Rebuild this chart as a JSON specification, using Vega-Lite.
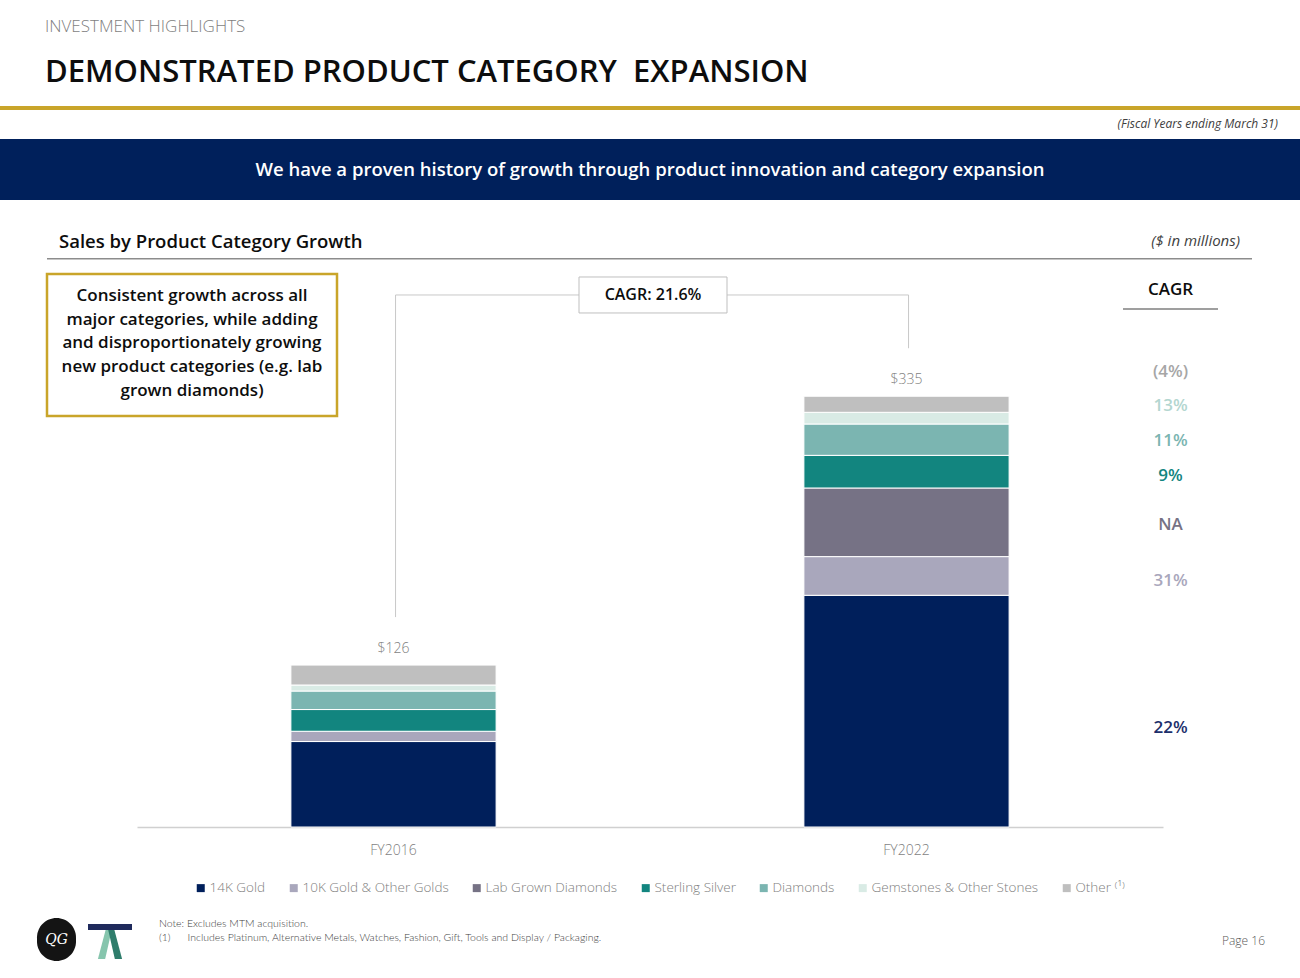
{
  "$schema": "https://vega.github.io/schema/vega-lite/v6.json",
  "background": "white",
  "padding": 0,
  "bounds": "flush",
  "spacing": 0,
  "config": {"view": {"stroke": null}, "font": "Open Sans"},
  "vconcat": [
    {"width": 1300, "height": 106, "data": {"values": [{}]}, "mark": {"type": "point", "opacity": 0}, "encoding": {}},
    {
      "width": 1300, "height": 4,
      "view": {"fill": "#c9a52a"},
      "data": {"values": [{}]}, "mark": {"type": "point", "opacity": 0}, "encoding": {},
      "title": {
        "text": "INVESTMENT HIGHLIGHTS",
        "subtitle": "DEMONSTRATED PRODUCT CATEGORY \u00a0EXPANSION",
        "anchor": "start", "frame": "group", "dx": 45, "offset": 16,
        "font": "Open Sans", "fontSize": 17, "fontWeight": 300, "color": "#7f7f7f",
        "subtitleFont": "Open Sans", "subtitleFontSize": 31, "subtitleFontWeight": 600,
        "subtitleColor": "#0d0d0d", "subtitlePadding": 22
      }
    },
    {"width": 1300, "height": 29, "data": {"values": [{}]}, "mark": {"type": "point", "opacity": 0}, "encoding": {}},
    {
      "width": 1300, "height": 61,
      "view": {"fill": "#00205b"},
      "title": {
        "text": "(Fiscal Years ending March 31)",
        "anchor": "end", "frame": "group", "dx": -22, "offset": 8,
        "fontSize": 12, "fontStyle": "italic", "fontWeight": "normal", "color": "#404040"
      },
      "data": {"values": [{"msg": "We have a proven history of growth through product innovation and category expansion"}]},
      "mark": {"type": "text", "color": "white", "fontSize": 18.5, "fontWeight": 600},
      "encoding": {"text": {"field": "msg", "type": "nominal"}}
    },
    {"width": 1300, "height": 58, "data": {"values": [{}]}, "mark": {"type": "point", "opacity": 0}, "encoding": {}},
    {
      "bounds": "flush", "spacing": 0,
      "hconcat": [
        {"width": 47, "height": 1, "data": {"values": [{}]}, "mark": {"type": "point", "opacity": 0}, "encoding": {}},
        {
          "width": 600, "height": 1.5,
          "view": {"fill": "#8c8c8c"},
          "data": {"values": [{}]}, "mark": {"type": "point", "opacity": 0}, "encoding": {},
          "title": {
            "text": "Sales by Product Category Growth",
            "anchor": "start", "frame": "group", "dx": 12, "offset": 5,
            "fontSize": 18.5, "fontWeight": 600, "color": "#0d0d0d"
          }
        },
        {
          "width": 605, "height": 1.5,
          "view": {"fill": "#8c8c8c"},
          "data": {"values": [{}]}, "mark": {"type": "point", "opacity": 0}, "encoding": {},
          "title": {
            "text": "($ in millions)",
            "anchor": "end", "frame": "group", "dx": -12, "offset": 7,
            "fontSize": 15, "fontStyle": "italic", "fontWeight": "normal", "color": "#404040"
          }
        }
      ]
    },
    {"width": 1300, "height": 1, "data": {"values": [{}]}, "mark": {"type": "point", "opacity": 0}, "encoding": {}},
    {
      "bounds": "flush", "spacing": 0,
      "hconcat": [
        {"width": 47, "height": 1, "data": {"values": [{}]}, "mark": {"type": "point", "opacity": 0}, "encoding": {}},
        {
          "bounds": "flush", "spacing": 0,
          "vconcat": [
            {"width": 290, "height": 15, "data": {"values": [{}]}, "mark": {"type": "point", "opacity": 0}, "encoding": {}},
            {
              "width": 290, "height": 142,
              "view": {"stroke": "#c9a52a", "strokeWidth": 2.5, "fill": "white"},
              "data": {"values": [{"lines": ["Consistent growth across all", "major categories, while adding", "and disproportionately growing", "new product categories (e.g. lab", "grown diamonds)"]}]},
              "mark": {"type": "text", "fontSize": 17, "fontWeight": 600, "color": "#0d0d0d", "lineHeight": 23.7, "dy": -49},
              "encoding": {"text": {"field": "lines", "type": "nominal"}}
            }
          ]
        },
        {"width": 90, "height": 1, "data": {"values": [{}]}, "mark": {"type": "point", "opacity": 0}, "encoding": {}},
        {
          "bounds": "flush", "spacing": 0,
          "hconcat": [
            {"width": 986, "height": 1, "data": {"values": [{}]}, "mark": {"type": "point", "opacity": 0}, "encoding": {}},
            {
              "width": 95, "height": 568,
              "data": {"values": [
                {"category": "Other", "cagr": "(4%)", "at": 354},
                {"category": "Gemstones & Other Stones", "cagr": "13%", "at": 327.6},
                {"category": "Diamonds", "cagr": "11%", "at": 300.4},
                {"category": "Sterling Silver", "cagr": "9%", "at": 273.2},
                {"category": "Lab Grown Diamonds", "cagr": "NA", "at": 235},
                {"category": "10K Gold & Other Golds", "cagr": "31%", "at": 191.4},
                {"category": "14K Gold", "cagr": "22%", "at": 77}
              ]},
              "layer": [
                {
                  "mark": {"type": "text", "fontSize": 17, "fontWeight": 600},
                  "encoding": {
                    "y": {"field": "at", "type": "quantitative", "scale": {"domain": [0, 442], "nice": false}, "axis": null},
                    "text": {"field": "cagr", "type": "nominal"},
                    "color": {
                      "condition": [
                        {"test": "datum.category == 'Other'", "value": "#a6a6a6"},
                        {"test": "datum.category == 'Gemstones & Other Stones'", "value": "#b3d6d0"},
                        {"test": "datum.category == 'Diamonds'", "value": "#7bb5b1"},
                        {"test": "datum.category == 'Sterling Silver'", "value": "#12857f"},
                        {"test": "datum.category == 'Lab Grown Diamonds'", "value": "#767285"},
                        {"test": "datum.category == '10K Gold & Other Golds'", "value": "#a9a7bc"}
                      ],
                      "value": "#1c2f6b"
                    }
                  }
                },
                {
                  "data": {"values": [{"h": "CAGR"}]},
                  "layer": [
                    {
                      "mark": {"type": "rule", "color": "#7f7f7f", "strokeWidth": 1.5},
                      "encoding": {"y": {"datum": 403, "type": "quantitative"}}
                    },
                    {
                      "mark": {"type": "text", "fontSize": 17, "fontWeight": 600, "color": "#0d0d0d"},
                      "encoding": {"y": {"datum": 418, "type": "quantitative"}, "text": {"field": "h", "type": "nominal"}}
                    }
                  ]
                }
              ]
            }
          ]
        },
        {
          "width": 1026, "height": 568,
          "data": {"values": [
            {"year": "FY2016", "category": "14K Gold", "value": 66.5, "rank": 1},
            {"year": "FY2016", "category": "10K Gold & Other Golds", "value": 8.0, "rank": 2},
            {"year": "FY2016", "category": "Sterling Silver", "value": 16.9, "rank": 4},
            {"year": "FY2016", "category": "Diamonds", "value": 14.4, "rank": 5},
            {"year": "FY2016", "category": "Gemstones & Other Stones", "value": 4.7, "rank": 6},
            {"year": "FY2016", "category": "Other", "value": 15.5, "rank": 7},
            {"year": "FY2022", "category": "14K Gold", "value": 180.3, "rank": 1},
            {"year": "FY2022", "category": "10K Gold & Other Golds", "value": 30.1, "rank": 2},
            {"year": "FY2022", "category": "Lab Grown Diamonds", "value": 53.4, "rank": 3},
            {"year": "FY2022", "category": "Sterling Silver", "value": 25.4, "rank": 4},
            {"year": "FY2022", "category": "Diamonds", "value": 24.4, "rank": 5},
            {"year": "FY2022", "category": "Gemstones & Other Stones", "value": 9.1, "rank": 6},
            {"year": "FY2022", "category": "Other", "value": 12.5, "rank": 7}
          ]},
          "layer": [
            {
              "mark": {"type": "bar", "stroke": "white", "strokeWidth": 1},
              "encoding": {
                "x": {
                  "field": "year", "type": "nominal",
                  "scale": {"paddingInner": 0.6, "paddingOuter": 0.3},
                  "axis": {"title": null, "labelAngle": 0, "labelFontSize": 14, "labelColor": "#7f7f7f", "labelFontWeight": 300, "ticks": false, "tickSize": 0, "labelPadding": 16, "domainColor": "#d0d0d0", "domainWidth": 1.5}
                },
                "y": {"field": "value", "type": "quantitative", "stack": "zero", "scale": {"domain": [0, 442], "nice": false}, "axis": null},
                "color": {
                  "field": "category", "type": "nominal",
                  "scale": {
                    "domain": ["14K Gold", "10K Gold & Other Golds", "Lab Grown Diamonds", "Sterling Silver", "Diamonds", "Gemstones & Other Stones", "Other"],
                    "range": ["#001f5b", "#a9a7bc", "#767285", "#12857f", "#7bb5b1", "#d9ebe5", "#bfbfbf"]
                  },
                  "legend": {
                    "orient": "none", "legendX": 194, "legendY": 881, "direction": "horizontal", "title": null, "padding": 0,
                    "symbolType": "square", "symbolSize": 64, "symbolStrokeWidth": 0,
                    "labelFontSize": 13.5, "labelColor": "#808080", "labelFontWeight": 300, "labelLimit": 400,
                    "columnPadding": 21, "labelOffset": 2,
                    "labelExpr": "datum.label == 'Other' ? 'Other ⁽¹⁾' : datum.label"
                  }
                },
                "order": {"field": "rank", "type": "quantitative"}
              }
            },
            {
              "transform": [{"aggregate": [{"op": "sum", "field": "value", "as": "total"}], "groupby": ["year"]}],
              "layer": [
                {
                  "mark": {"type": "text", "baseline": "alphabetic", "dy": -12, "fontSize": 14, "color": "#7f7f7f", "fontWeight": 300},
                  "encoding": {
                    "x": {"field": "year", "type": "nominal"},
                    "y": {"field": "total", "type": "quantitative", "axis": null},
                    "text": {"field": "total", "type": "quantitative", "format": "$.0f"}
                  }
                },
                {
                  "mark": {"type": "rule", "color": "#c8c8c8", "strokeWidth": 1, "yOffset": -48},
                  "encoding": {
                    "x": {"field": "year", "type": "nominal", "bandPosition": 0.51},
                    "y": {"field": "total", "type": "quantitative", "axis": null},
                    "y2": {"datum": 414}
                  }
                },
                {
                  "mark": {"type": "line", "color": "#c8c8c8", "strokeWidth": 1},
                  "encoding": {
                    "x": {"field": "year", "type": "nominal", "bandPosition": 0.51},
                    "y": {"datum": 414, "type": "quantitative"}
                  }
                }
              ]
            },
            {
              "data": {"values": [{"label": "CAGR: 21.6%"}]},
              "layer": [
                {
                  "mark": {"type": "point", "shape": "M-1,-0.2432L1,-0.2432L1,0.2432L-1,0.2432Z", "size": 21904, "filled": true, "fill": "white", "stroke": "#bfbfbf", "strokeWidth": 1, "opacity": 1, "xOffset": 3},
                  "encoding": {"y": {"datum": 414, "type": "quantitative"}}
                },
                {
                  "mark": {"type": "text", "fontSize": 16, "fontWeight": 600, "color": "#0d0d0d", "xOffset": 3},
                  "encoding": {"y": {"datum": 414, "type": "quantitative"}, "text": {"field": "label", "type": "nominal"}}
                }
              ]
            }
          ]
        }
      ]
    },
    {"width": 1300, "height": 659, "data": {"values": [{}]}, "mark": {"type": "point", "opacity": 0}, "encoding": {}},
    {
      "bounds": "flush", "spacing": 0,
      "hconcat": [
        {"width": 37, "height": 1, "data": {"values": [{}]}, "mark": {"type": "point", "opacity": 0}, "encoding": {}},
        {
          "width": 39, "height": 43,
          "view": {"fill": "#141414", "cornerRadius": 20},
          "data": {"values": [{"t": "QG"}]},
          "mark": {"type": "text", "color": "white", "font": "DejaVu Serif", "fontStyle": "italic", "fontSize": 14},
          "encoding": {"text": {"field": "t", "type": "nominal"}}
        },
        {"width": 12, "height": 1, "data": {"values": [{}]}, "mark": {"type": "point", "opacity": 0}, "encoding": {}},
        {
          "bounds": "flush", "spacing": 0,
          "vconcat": [
            {"width": 44, "height": 6, "data": {"values": [{}]}, "mark": {"type": "point", "opacity": 0}, "encoding": {}},
            {"width": 44, "height": 6, "view": {"fill": "#1f2a5c"}, "data": {"values": [{}]}, "mark": {"type": "point", "opacity": 0}, "encoding": {}},
            {
              "width": 44, "height": 29,
              "data": {"values": [{}]},
              "layer": [
                {"mark": {"type": "point", "shape": "M-0.2,-0.66L0.08,-0.66L-0.22,0.66L-0.55,0.66Z", "size": 1936, "filled": true, "color": "#86c5ad", "opacity": 1}, "encoding": {}},
                {"mark": {"type": "point", "shape": "M-0.08,-0.66L0.2,-0.66L0.55,0.66L0.22,0.66Z", "size": 1936, "filled": true, "color": "#2f7d6c", "opacity": 1}, "encoding": {}}
              ]
            }
          ]
        }
      ]
    },
    {"width": 1300, "height": 28, "data": {"values": [{}]}, "mark": {"type": "point", "opacity": 0}, "encoding": {}},
    {
      "width": 700, "height": 1,
      "data": {"values": [{}]}, "mark": {"type": "point", "opacity": 0}, "encoding": {},
      "title": {
        "text": "Note: Excludes MTM acquisition.",
        "subtitle": "(1)\u00a0\u00a0\u00a0\u00a0\u00a0\u00a0Includes Platinum, Alternative Metals, Watches, Fashion, Gift, Tools and Display / Packaging.",
        "anchor": "start", "frame": "group", "dx": 159, "offset": 0,
        "font": "Lato", "fontSize": 10.5, "fontWeight": 300, "color": "#404040",
        "subtitleFont": "Lato", "subtitleFontSize": 10.5, "subtitleFontWeight": 300, "subtitleColor": "#404040", "subtitlePadding": 4
      }
    },
    {
      "width": 1265, "height": 1,
      "data": {"values": [{}]}, "mark": {"type": "point", "opacity": 0}, "encoding": {},
      "title": {
        "text": "Page 16",
        "anchor": "end", "frame": "group", "offset": -3,
        "fontSize": 12, "fontWeight": 300, "color": "#595959"
      }
    }
  ]
}
